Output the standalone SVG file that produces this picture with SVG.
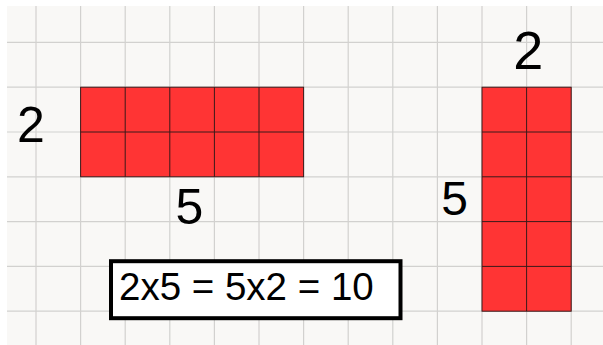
<svg xmlns="http://www.w3.org/2000/svg" width="603" height="345" viewBox="0 0 603 345">
<style>
.grid{stroke:#d2d1cf;stroke-width:1.2;fill:none}
.cell{fill:#ff3434;stroke:#3a1a1a;stroke-width:1}
.lbl{font-family:"Liberation Sans",Arial,sans-serif;font-size:50px;fill:#000;text-anchor:middle}
.eq{font-family:"Liberation Sans",Arial,sans-serif;font-size:38.5px;fill:#000}
</style>
<rect width="603" height="345" fill="#ffffff"/>
<rect x="7" y="6" width="596" height="339" fill="#f9f8f6"/>
<g id="grid" class="grid">
<path d="M36 6V345M80.6 6V345M125.2 6V345M169.8 6V345M214.4 6V345M259 6V345M303.6 6V345M348.2 6V345M392.8 6V345M437.4 6V345M482 6V345M526.6 6V345M571.2 6V345"/>
<path d="M7 42.4H603M7 87.2H603M7 132H603M7 176.8H603M7 221.6H603M7 266.4H603M7 311.2H603"/>
</g>
<g id="rect-2x5">
<rect class="cell" x="80.6" y="87.2" width="223" height="89.6"/>
<path d="M125.2 87.2V176.8M169.8 87.2V176.8M214.4 87.2V176.8M259 87.2V176.8M80.6 132H303.6" stroke="#3a1a1a" stroke-width="1"/>
</g>
<g id="rect-5x2">
<rect class="cell" x="482" y="87.2" width="89.2" height="224"/>
<path d="M526.6 87.2V311.2M482 132H571.2M482 176.8H571.2M482 221.6H571.2M482 266.4H571.2" stroke="#3a1a1a" stroke-width="1"/>
</g>
<g id="label-left-2"><text class="lbl" x="31" y="141.7">2</text></g>
<g id="label-bottom-5"><text class="lbl" x="189.5" y="223.5">5</text></g>
<g id="label-top-2"><text class="lbl" x="528.3" y="69.3" style="font-size:54px">2</text></g>
<g id="label-right-5"><text class="lbl" x="454.7" y="214.5" style="font-size:48px">5</text></g>
<g id="equation">
<rect x="111" y="261.2" width="289.5" height="57" fill="#ffffff" stroke="#000" stroke-width="4"/>
<text class="eq" x="119" y="300">2x5 = 5x2 = 10</text>
</g>
</svg>
